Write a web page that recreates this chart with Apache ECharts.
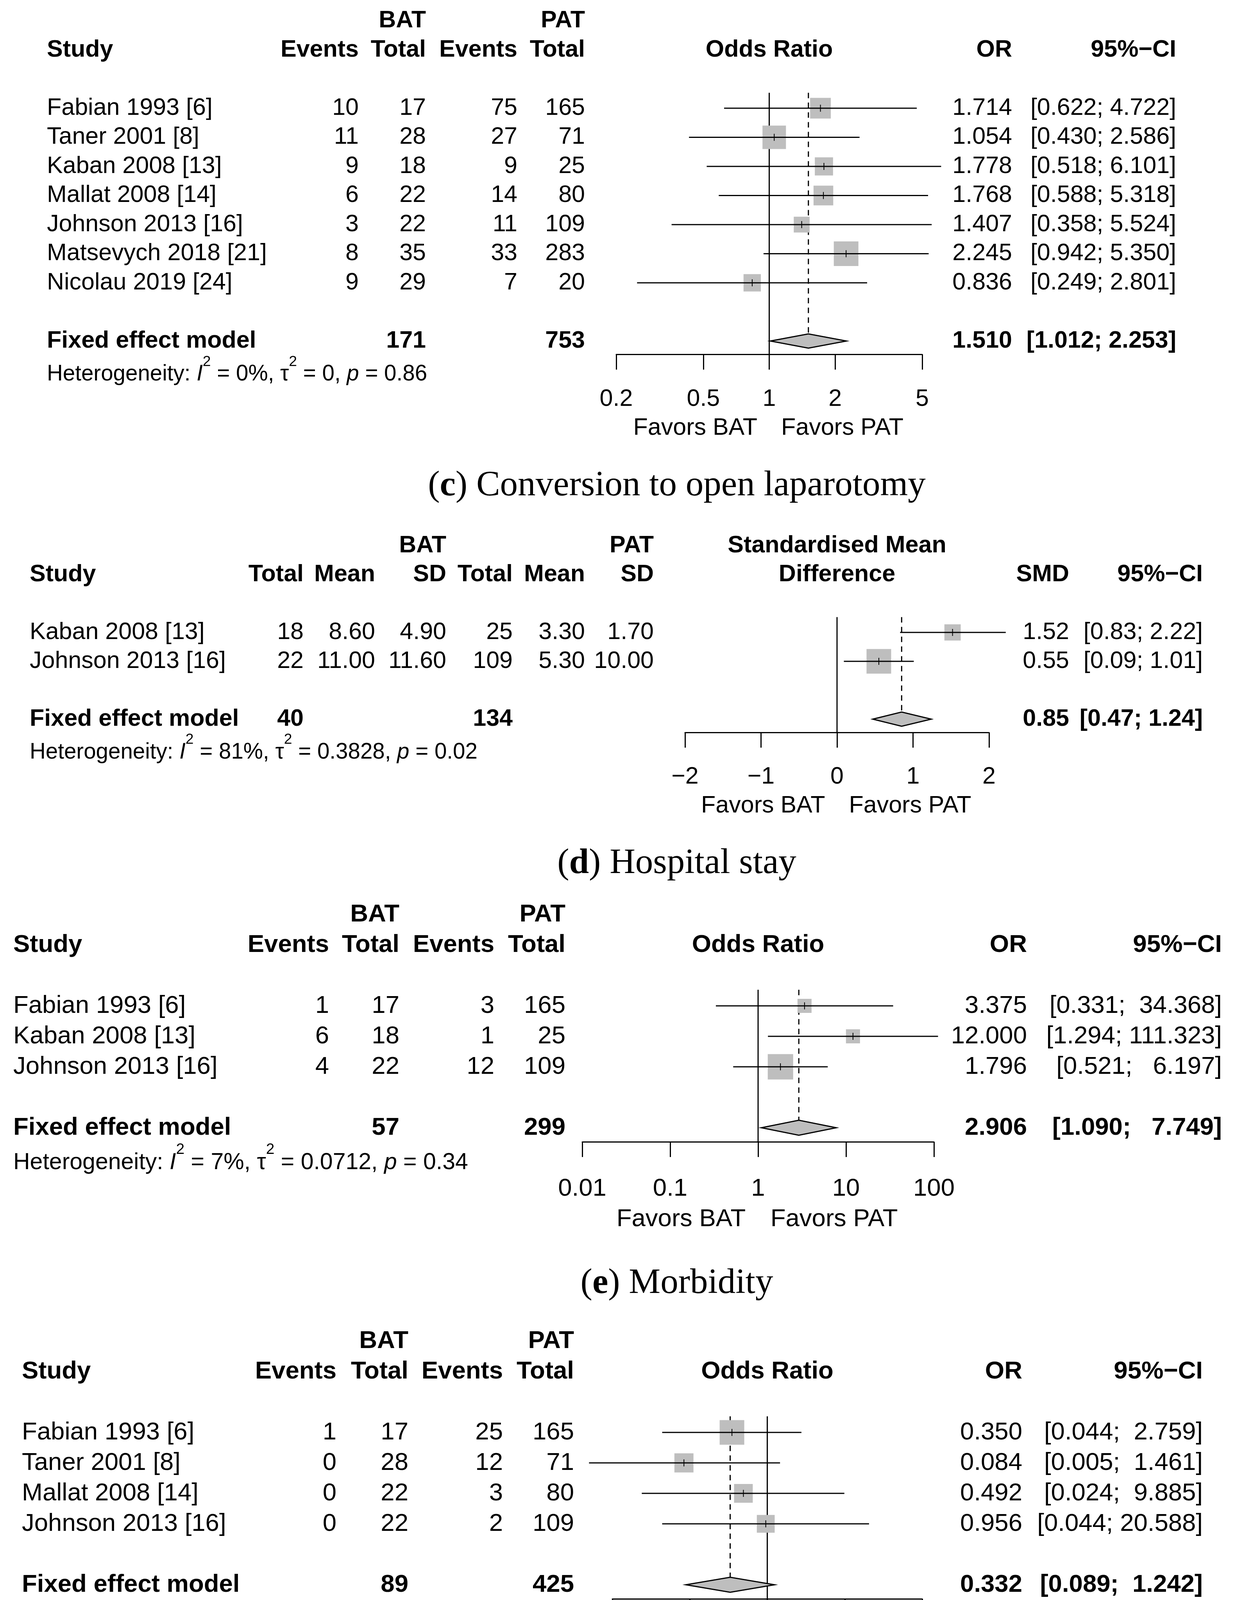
<!DOCTYPE html>
<html>
<head>
<meta charset="utf-8">
<script src="https://cdn.jsdelivr.net/npm/echarts@6/dist/echarts.min.js"></script>
<style>
html,body{margin:0;padding:0;background:#fff;}
#main{width:3163px;height:4531px;}
</style>
</head>
<body>
<div id="main"></div>
<script>
// ================= DATA =================
// (c) Conversion to open laparotomy
const cStudies = ['Fabian 1993 [6]', 'Taner 2001 [8]', 'Kaban 2008 [13]', 'Mallat 2008 [14]', 'Johnson 2013 [16]', 'Matsevych 2018 [21]', 'Nicolau 2019 [24]'];
const cBatEvents = [10, 11, 9, 6, 3, 8, 9];
const cBatTotal = [17, 28, 18, 22, 22, 35, 29];
const cPatEvents = [75, 27, 9, 14, 11, 33, 7];
const cPatTotal = [165, 71, 25, 80, 109, 283, 20];
const cOR = [1.714, 1.054, 1.778, 1.768, 1.407, 2.245, 0.836];
const cLower = [0.622, 0.430, 0.518, 0.588, 0.358, 0.942, 0.249];
const cUpper = [4.722, 2.586, 6.101, 5.318, 5.524, 5.350, 2.801];
const cWeight = [15.0, 19.3, 11.6, 13.6, 8.8, 21.2, 10.5];
const cPooled = [1.510, 1.012, 2.253];
const cPooledTotals = [171, 753];
const cHet = ['0%', '0', '0.86'];
const cTicks = [0.2, 0.5, 1, 2, 5];

// (d) Hospital stay
const dStudies = ['Kaban 2008 [13]', 'Johnson 2013 [16]'];
const dBatTotal = [18, 22];
const dBatMean = [8.60, 11.00];
const dBatSD = [4.90, 11.60];
const dPatTotal = [25, 109];
const dPatMean = [3.30, 5.30];
const dPatSD = [1.70, 10.00];
const dSMD = [1.52, 0.55];
const dLower = [0.83, 0.09];
const dUpper = [2.22, 1.01];
const dWeight = [30.5, 69.5];
const dPooled = [0.85, 0.47, 1.24];
const dPooledTotals = [40, 134];
const dHet = ['81%', '0.3828', '0.02'];
const dTicks = [-2, -1, 0, 1, 2];

// (e) Morbidity
const eStudies = ['Fabian 1993 [6]', 'Kaban 2008 [13]', 'Johnson 2013 [16]'];
const eBatEvents = [1, 6, 4];
const eBatTotal = [17, 18, 22];
const ePatEvents = [3, 1, 12];
const ePatTotal = [165, 25, 109];
const eOR = [3.375, 12.000, 1.796];
const eLower = [0.331, 1.294, 0.521];
const eUpper = [34.368, 111.323, 6.197];
const eWeight = [19.0, 19.0, 62.0];
const ePooled = [2.906, 1.090, 7.749];
const ePooledTotals = [57, 299];
const eHet = ['7%', '0.0712', '0.34'];
const eTicks = [0.01, 0.1, 1, 10, 100];

// (f) Nontherapeutic laparotomy
const fStudies = ['Fabian 1993 [6]', 'Taner 2001 [8]', 'Mallat 2008 [14]', 'Johnson 2013 [16]'];
const fBatEvents = [1, 0, 0, 0];
const fBatTotal = [17, 28, 22, 22];
const fPatEvents = [25, 12, 3, 2];
const fPatTotal = [165, 71, 80, 109];
const fOR = [0.350, 0.084, 0.492, 0.956];
const fLower = [0.044, 0.005, 0.024, 0.044];
const fUpper = [2.759, 1.461, 9.885, 20.588];
const fWeight = [37.0, 22.2, 21.3, 19.5];
const fPooled = [0.332, 0.089, 1.242];
const fPooledTotals = [89, 425];
const fHet = ['0%', '0', '0.70'];
const fTicks = [0.01, 0.1, 1, 10, 100];

// ================= LAYOUT / STYLE =================
const FONT = '"Liberation Sans", Arial, Helvetica, sans-serif';
const SERIF = '"Liberation Serif", "DejaVu Serif", "Times New Roman", serif';
const SQUARE = '#bebebe';
const CAPTION_X = 1732;

const panels = [
  { log: true, dec: 3, axisMin: 0.2, axisMax: 5, ticks: cTicks, studies: cStudies,
    cols: [cBatEvents, cBatTotal, cPatEvents, cPatTotal], colDec: [0, 0, 0, 0],
    colHeads: ['Events', 'Total', 'Events', 'Total'], groupCol: [1, 3], totalCol: [1, 3],
    est: cOR, lo: cLower, hi: cUpper, w: cWeight, pooled: cPooled, pooledTotals: cPooledTotals, het: cHet,
    plotHead: ['', 'Odds Ratio'], estHead: 'OR', caption: ['c', 'Conversion to open laparotomy'],
    L: { row0: 277, rowH: 74.5, font: 61, hetFont: 56.5, studyX: 120, colX: [918, 1090, 1324, 1497],
         axisPx: [1577, 2360], estX: 2590, ciX: 3010, box: 63, captionY: 1244 } },
  { log: false, dec: 2, axisMin: -2, axisMax: 2, ticks: dTicks, studies: dStudies,
    cols: [dBatTotal, dBatMean, dBatSD, dPatTotal, dPatMean, dPatSD], colDec: [0, 2, 2, 0, 2, 2],
    colHeads: ['Total', 'Mean', 'SD', 'Total', 'Mean', 'SD'], groupCol: [2, 5], totalCol: [0, 3],
    est: dSMD, lo: dLower, hi: dUpper, w: dWeight, pooled: dPooled, pooledTotals: dPooledTotals, het: dHet,
    plotHead: ['Standardised Mean', 'Difference'], estHead: 'SMD', caption: ['d', 'Hospital stay'],
    L: { row0: 1619, rowH: 74, font: 61, hetFont: 56.5, studyX: 76, colX: [777, 960, 1142, 1312, 1497, 1673],
         axisPx: [1753, 2531], estX: 2736, ciX: 3078, box: 63, captionY: 2211 } },
  { log: true, dec: 3, axisMin: 0.01, axisMax: 100, ticks: eTicks, studies: eStudies,
    cols: [eBatEvents, eBatTotal, ePatEvents, ePatTotal], colDec: [0, 0, 0, 0],
    colHeads: ['Events', 'Total', 'Events', 'Total'], groupCol: [1, 3], totalCol: [1, 3],
    est: eOR, lo: eLower, hi: eUpper, w: eWeight, pooled: ePooled, pooledTotals: ePooledTotals, het: eHet,
    plotHead: ['', 'Odds Ratio'], estHead: 'OR', caption: ['e', 'Morbidity'],
    L: { row0: 2575, rowH: 78, font: 63.5, hetFont: 59, studyX: 34, colX: [842, 1022, 1265, 1447],
         axisPx: [1490, 2390], estX: 2628, ciX: 3127, box: 65, captionY: 3286 } },
  { log: true, dec: 3, axisMin: 0.01, axisMax: 100, ticks: fTicks, studies: fStudies,
    cols: [fBatEvents, fBatTotal, fPatEvents, fPatTotal], colDec: [0, 0, 0, 0],
    colHeads: ['Events', 'Total', 'Events', 'Total'], groupCol: [1, 3], totalCol: [1, 3],
    est: fOR, lo: fLower, hi: fUpper, w: fWeight, pooled: fPooled, pooledTotals: fPooledTotals, het: fHet,
    plotHead: ['', 'Odds Ratio'], estHead: 'OR', caption: ['f', 'Nontherapeutic laparotomy'],
    L: { row0: 3667, rowH: 78, font: 63.5, hetFont: 59, studyX: 56, colX: [861, 1045, 1287, 1469],
         axisPx: [1567, 2360], estX: 2616, ciX: 3078, box: 63, captionY: 4450 } }
];

// ================= HELPERS =================
function ciStrings(p) {
  const los = p.lo.concat([p.pooled[1]]).map(v => v.toFixed(p.dec));
  const his = p.hi.concat([p.pooled[2]]).map(v => v.toFixed(p.dec));
  const wl = Math.max(...los.map(s => s.length));
  const wh = Math.max(...his.map(s => s.length));
  return los.map((l, i) => '[' + l.padStart(wl) + '; ' + his[i].padStart(wh) + ']');
}

function txt(s, x, y, align, bold, size) {
  return {
    type: 'text', silent: true,
    style: {
      text: String(s), x: x, y: y,
      align: align, textAlign: align, verticalAlign: 'middle', textVerticalAlign: 'middle',
      fontSize: size, fontFamily: FONT, fontWeight: bold ? 'bold' : 'normal', fill: '#000'
    }
  };
}

function renderRow(p, it, api) {
  const L = p.L, n = p.studies.length, F = L.font;
  const nv = p.log ? 1 : 0;
  const Y = r => api.coord([nv, r])[1];
  const X = v => api.coord([v, 0])[0];
  const cis = p._ci;
  const kids = [];
  const h = L.rowH * 0.245;

  if (it.kind === 'ref') {
    const xn = X(nv), yTop = Y(-0.53), yAx = Y(n + 1.46);
    kids.push({ type: 'line', shape: { x1: xn, y1: yTop, x2: xn, y2: yAx }, style: { stroke: '#000', lineWidth: 3 } });
    const xp = X(p.pooled[0]);
    kids.push({ type: 'line', shape: { x1: xp, y1: yTop, x2: xp, y2: Y(n + 1) - h },
      style: { stroke: '#000', lineWidth: 3, lineDash: [14, 11] } });
  } else if (it.kind === 'head') {
    const y3 = Y(-3), y2 = Y(-2);
    kids.push(txt('BAT', L.colX[p.groupCol[0]], y3, 'right', true, F));
    kids.push(txt('PAT', L.colX[p.groupCol[1]], y3, 'right', true, F));
    kids.push(txt('Study', L.studyX, y2, 'left', true, F));
    p.colHeads.forEach((s, k) => kids.push(txt(s, L.colX[k], y2, 'right', true, F)));
    const xm = (X(p.axisMin) + X(p.axisMax)) / 2;
    if (p.plotHead[0]) kids.push(txt(p.plotHead[0], xm, y3, 'center', true, F));
    kids.push(txt(p.plotHead[1], xm, y2, 'center', true, F));
    kids.push(txt(p.estHead, L.estX, y2, 'right', true, F));
    kids.push(txt('95%\u2212CI', L.ciX, y2, 'right', true, F));
  } else if (it.kind === 'study') {
    const i = it.i, y = Y(i);
    const xc = X(p.est[i]), xl = X(p.lo[i]), xh = X(p.hi[i]);
    const s = L.box * Math.sqrt(p.w[i] / Math.max(...p.w));
    kids.push({ type: 'rect', shape: { x: xc - s / 2, y: y - s / 2, width: s, height: s }, style: { fill: SQUARE } });
    kids.push({ type: 'line', shape: { x1: xl, y1: y, x2: xh, y2: y }, style: { stroke: '#000', lineWidth: 3 } });
    kids.push({ type: 'line', shape: { x1: xc, y1: y - 9, x2: xc, y2: y + 9 }, style: { stroke: '#000', lineWidth: 2 } });
    kids.push(txt(p.studies[i], L.studyX, y, 'left', false, F));
    p.cols.forEach((col, k) => kids.push(txt(col[i].toFixed(p.colDec[k]), L.colX[k], y, 'right', false, F)));
    kids.push(txt(p.est[i].toFixed(p.dec), L.estX, y, 'right', false, F));
    kids.push(txt(cis[i], L.ciX, y, 'right', false, F));
  } else if (it.kind === 'pooled') {
    const y = Y(n + 1);
    const [e, lo, hi] = p.pooled;
    const xe = X(e), xl = X(lo), xh = X(hi);
    kids.push({ type: 'polygon', shape: { points: [[xl, y], [xe, y - h], [xh, y], [xe, y + h]] },
      style: { fill: SQUARE, stroke: '#000', lineWidth: 3, lineJoin: 'miter' } });
    kids.push(txt('Fixed effect model', L.studyX, y, 'left', true, F));
    kids.push(txt(p.pooledTotals[0], L.colX[p.totalCol[0]], y, 'right', true, F));
    kids.push(txt(p.pooledTotals[1], L.colX[p.totalCol[1]], y, 'right', true, F));
    kids.push(txt(e.toFixed(p.dec), L.estX, y, 'right', true, F));
    kids.push(txt(cis[cis.length - 1], L.ciX, y, 'right', true, F));
  } else if (it.kind === 'het') {
    const y = Y(n + 2), H = L.hetFont;
    const base = { fontSize: H, fontFamily: FONT, fill: '#000', color: '#000', lineHeight: H * 1.4, verticalAlign: 'bottom' };
    kids.push({
      type: 'text', silent: true,
      style: {
        text: '{n|Heterogeneity: }{i|I}{s|2}{n| = ' + p.het[0] + ', \u03c4}{s|2}{n| = ' + p.het[1] + ', }{i|p}{n| = ' + p.het[2] + '}',
        x: L.studyX, y: y, align: 'left', textAlign: 'left', verticalAlign: 'middle', textVerticalAlign: 'middle',
        fontSize: H, fontFamily: FONT, fill: '#000',
        rich: {
          n: base,
          i: Object.assign({}, base, { fontStyle: 'italic' }),
          s: { fontSize: H * 0.66, fontFamily: FONT, fill: '#000', color: '#000', lineHeight: H * 0.66, verticalAlign: 'top' }
        }
      }
    });
  } else if (it.kind === 'favors') {
    const y = Y(n + 4), xn = X(nv);
    kids.push(txt('Favors BAT', xn - F * 0.5, y, 'right', false, F));
    kids.push(txt('Favors PAT', xn + F * 0.5, y, 'left', false, F));
  }
  return { type: 'group', children: kids };
}

function tickLabel(v, log) {
  const num = +Number(v).toPrecision(6);
  if (!log && num < 0) return '\u2212' + Math.abs(num);
  return String(num);
}

// ================= OPTION =================
const option = { animation: false, backgroundColor: '#ffffff', grid: [], xAxis: [], yAxis: [], series: [], graphic: [] };

panels.forEach((p, gi) => {
  const L = p.L, n = p.studies.length;
  const axisRow = n + 1.46, yMin = -3.5;
  p._ci = ciStrings(p);
  option.grid.push({
    left: L.axisPx[0], width: L.axisPx[1] - L.axisPx[0],
    top: L.row0 + yMin * L.rowH, height: (axisRow - yMin) * L.rowH,
    containLabel: false, outerBoundsMode: 'none', show: false
  });
  option.xAxis.push({
    gridIndex: gi, type: p.log ? 'log' : 'value', logBase: 10,
    min: p.axisMin, max: p.axisMax, position: 'bottom',
    axisLine: { show: true, onZero: false, lineStyle: { color: '#000', width: 3 } },
    axisTick: { show: true, inside: false, length: 39, customValues: p.ticks, lineStyle: { color: '#000', width: 3 } },
    axisLabel: { show: true, customValues: p.ticks, margin: 1.54 * L.rowH - L.font * 0.5,
      formatter: v => tickLabel(v, p.log), color: '#000', fontSize: L.font, fontFamily: FONT, hideOverlap: false },
    splitLine: { show: false }, minorTick: { show: false }
  });
  option.yAxis.push({ gridIndex: gi, type: 'value', inverse: true, min: yMin, max: axisRow, show: false, splitLine: { show: false } });

  const nv = p.log ? 1 : 0;
  const items = [{ kind: 'ref', x: nv, row: 0 }, { kind: 'head', x: nv, row: -2 }];
  p.studies.forEach((s, i) => items.push({ kind: 'study', i: i, x: p.est[i], row: i }));
  items.push({ kind: 'pooled', x: p.pooled[0], row: n + 1 });
  items.push({ kind: 'het', x: nv, row: n + 2 });
  items.push({ kind: 'favors', x: nv, row: n + 4 });

  option.series.push({
    type: 'custom', coordinateSystem: 'cartesian2d', xAxisIndex: gi, yAxisIndex: gi,
    clip: false, silent: true, animation: false,
    data: items.map(it => [it.x, it.row]),
    renderItem: (params, api) => renderRow(p, items[params.dataIndex], api)
  });

  const capStyle = { fontSize: 91, fontFamily: SERIF, fill: '#000', color: '#000' };
  option.graphic.push({
    type: 'text', x: CAPTION_X, y: L.captionY, silent: true,
    style: {
      text: '{p|(}{b|' + p.caption[0] + '}{p|) ' + p.caption[1] + '}',
      align: 'center', textAlign: 'center', verticalAlign: 'middle', textVerticalAlign: 'middle',
      fontSize: 91, fontFamily: SERIF, fill: '#000',
      rich: { p: capStyle, b: Object.assign({}, capStyle, { fontWeight: 'bold' }) }
    }
  });
});

const chart = echarts.init(document.getElementById('main'), null, { renderer: 'canvas', width: 3163, height: 4531 });
chart.setOption(option);
</script>
</body>
</html>
